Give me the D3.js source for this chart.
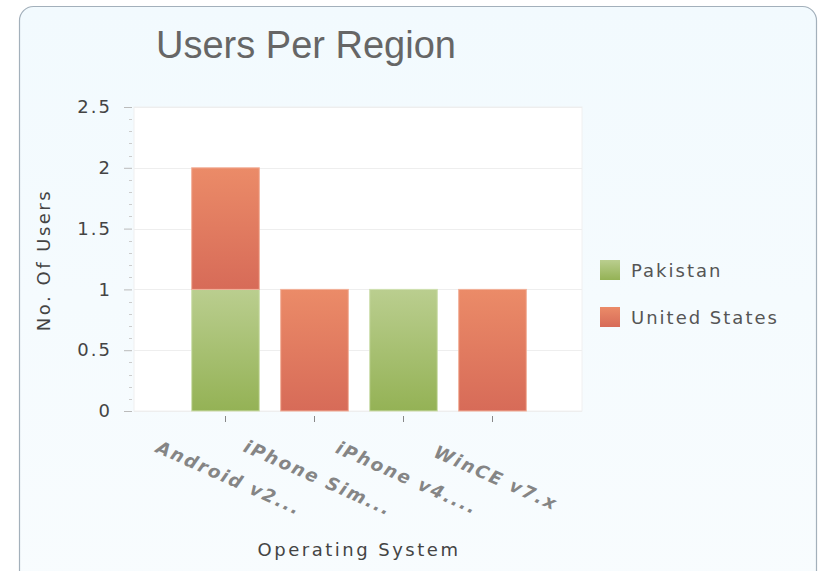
<!DOCTYPE html>
<html><head><meta charset="utf-8">
<script src="https://cdn.jsdelivr.net/npm/d3@7"></script>
<style>html,body{margin:0;padding:0;background:#fff;}svg{display:block;}</style>
</head><body>
<svg id="chart" width="829" height="571"></svg>
<script>
const categories = ["Android v2...", "iPhone Sim...", "iPhone v4....", "WinCE v7.x"];
const seriesNames = ["Pakistan", "United States"];
const pakistan = [1, 0, 1, 0];
const unitedStates = [1, 1, 0, 1];
const yTicks = [0, 0.5, 1, 1.5, 2, 2.5];
const yTickLabels = ["0", "0.5", "1", "1.5", "2", "2.5"];
const chartTitle = "Users Per Region";
const xTitle = "Operating System";
const yTitle = "No. Of Users";

(function(){
const svg = d3.select("#chart");
const defs = svg.append("defs");
const g1 = defs.append("linearGradient").attr("id","gGreen").attr("x1",0).attr("y1",0).attr("x2",0).attr("y2",1);
g1.append("stop").attr("offset","0%").attr("stop-color","#bace8f");
g1.append("stop").attr("offset","100%").attr("stop-color","#94b255");
const g2 = defs.append("linearGradient").attr("id","gOrange").attr("x1",0).attr("y1",0).attr("x2",0).attr("y2",1);
g2.append("stop").attr("offset","0%").attr("stop-color","#eb8b68");
g2.append("stop").attr("offset","100%").attr("stop-color","#d76b58");
const bg = defs.append("linearGradient").attr("id","gBg").attr("x1",0).attr("y1",0).attr("x2",0).attr("y2",1);
bg.append("stop").attr("offset","0%").attr("stop-color","#f2fafe");
bg.append("stop").attr("offset","100%").attr("stop-color","#f8fcfe");

const FONT = "DejaVu Sans, Verdana, sans-serif";

// card
svg.append("rect").attr("x",19.5).attr("y",6.5).attr("width",797).attr("height",590)
  .attr("rx",14).attr("fill","url(#gBg)").attr("stroke","#a3b0bb").attr("stroke-width",1.2);

// title
svg.append("text").attr("x",156).attr("y",58).text(chartTitle)
  .attr("font-family","Liberation Sans, Arial, sans-serif").attr("font-size",38).attr("fill","#666");

const pLeft = 134, pRight = 582, pTop = 107, pBottom = 411;
const y = d3.scaleLinear().domain([0, 2.5]).range([pBottom, pTop]);
const x = d3.scaleBand().domain(categories).range([181, 537]).paddingInner(0.24).paddingOuter(0.12);

// plot area
svg.append("rect").attr("x",pLeft).attr("y",pTop).attr("width",pRight-pLeft).attr("height",pBottom-pTop)
  .attr("fill","#fff").attr("stroke","#f0f0f0");

// grid
svg.append("g").selectAll("line").data(yTicks).join("line")
  .attr("x1",pLeft).attr("x2",pRight).attr("y1",d=>Math.round(y(d))+0.5).attr("y2",d=>Math.round(y(d))+0.5)
  .attr("stroke","#eeeeee");

// y axis
const yAxis = d3.axisLeft(y).tickValues(yTicks).tickFormat((d,i)=>yTickLabels[i]).tickSize(8).tickPadding(12);
const ya = svg.append("g").attr("transform",`translate(${pLeft-2},0)`).call(yAxis);
ya.select(".domain").remove();
ya.selectAll(".tick line").attr("stroke","#bbb");
ya.selectAll(".tick text").attr("font-family",FONT).attr("font-size",18).attr("letter-spacing",2).attr("fill","#444");
// minor ticks
const minor = d3.range(0, 2.5001, 0.1).filter(v => !yTicks.some(t => Math.abs(t - v) < 1e-6));
svg.append("g").selectAll("line").data(minor).join("line")
  .attr("x1",pLeft-5).attr("x2",pLeft-2).attr("y1",d=>Math.round(y(d))+0.5).attr("y2",d=>Math.round(y(d))+0.5)
  .attr("stroke","#ccc");

// bars
const stackData = categories.map((c,i)=>({cat:c, Pakistan:pakistan[i], "United States":unitedStates[i]}));
const stack = d3.stack().keys(seriesNames)(stackData);
const fills = {"Pakistan":"url(#gGreen)","United States":"url(#gOrange)"};
const strokes = {"Pakistan":"#cfe0b0","United States":"#f2b09a"};
stack.forEach(s=>{
  svg.append("g").selectAll("rect").data(s.filter(d=>d[1]-d[0]>0)).join("rect")
    .attr("x",d=>x(d.data.cat)).attr("width",x.bandwidth())
    .attr("y",d=>y(d[1])).attr("height",d=>y(d[0])-y(d[1]))
    .attr("fill",fills[s.key]).attr("stroke",strokes[s.key]).attr("stroke-width",1);
});

// x axis ticks
const xAxis = d3.axisBottom(x).tickSize(6).tickFormat("");
const xa = svg.append("g").attr("transform",`translate(0,${pBottom+5})`).call(xAxis);
xa.select(".domain").remove();
xa.selectAll(".tick line").attr("stroke","#888");
// x labels
svg.append("g").selectAll("text").data(categories).join("text")
  .attr("transform",d=>`translate(${x(d)+x.bandwidth()/2+3},${479}) rotate(24)`)
  .attr("text-anchor","middle").attr("dominant-baseline","middle")
  .attr("font-family",FONT).attr("font-size",18).attr("font-weight","bold").attr("letter-spacing",2)
  .attr("font-style","italic").attr("fill","#858585").text(d=>d);

// axis titles
svg.append("text").attr("x",359).attr("y",556).attr("text-anchor","middle").text(xTitle)
  .attr("font-family",FONT).attr("font-size",18).attr("letter-spacing",2.5).attr("fill","#444");
svg.append("text").attr("transform","translate(50,260) rotate(-90)").attr("text-anchor","middle").text(yTitle)
  .attr("font-family",FONT).attr("font-size",18).attr("letter-spacing",2.5).attr("fill","#444");

// legend
const lg = svg.append("g").selectAll("g").data(seriesNames).join("g")
  .attr("transform",(d,i)=>`translate(600,${260+i*47})`);
lg.append("rect").attr("width",20).attr("height",20).attr("fill",d=>fills[d]);
lg.append("text").attr("x",31).attr("y",17).text(d=>d)
  .attr("font-family",FONT).attr("font-size",18).attr("letter-spacing",2).attr("fill","#555");
})();
</script>
</body></html>
